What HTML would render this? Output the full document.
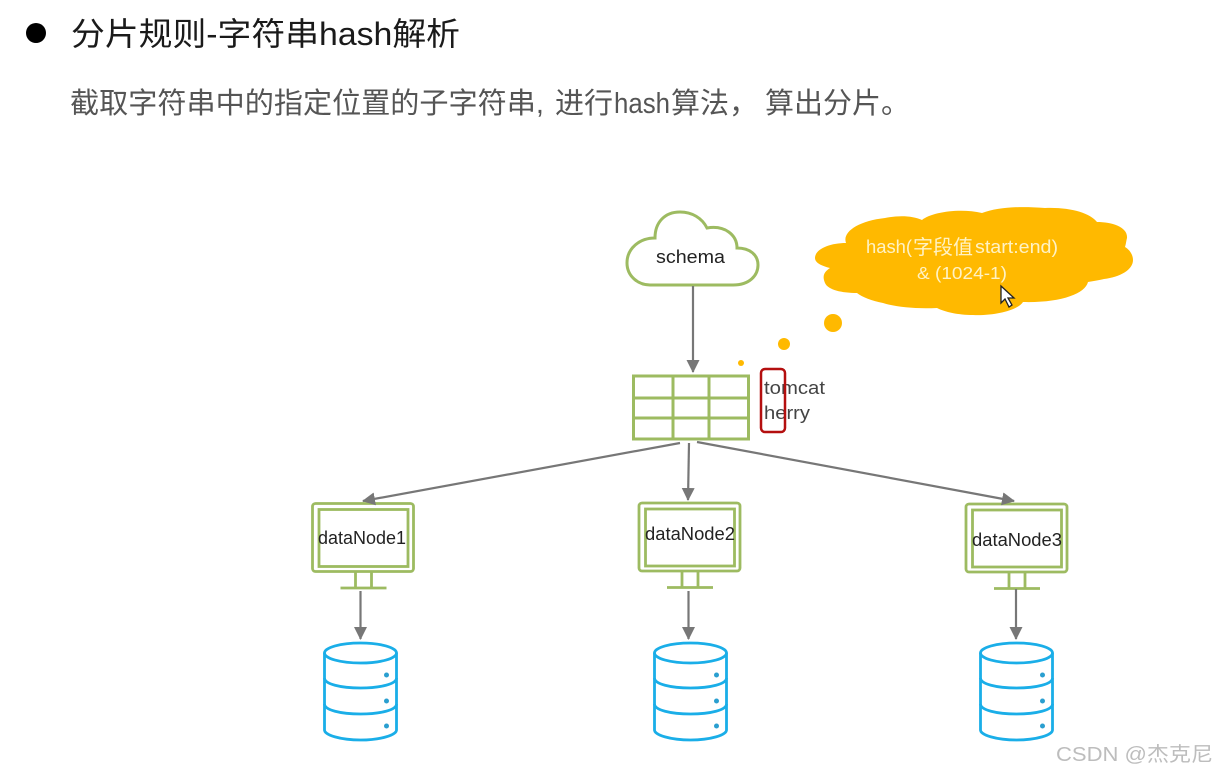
<!DOCTYPE html>
<html><head><meta charset="utf-8"><style>
html,body{margin:0;padding:0;background:#fff}
svg{display:block}
text{font-family:"Liberation Sans","Noto Sans CJK SC",sans-serif}
</style></head><body>
<svg width="1218" height="772" viewBox="0 0 1218 772" xmlns="http://www.w3.org/2000/svg">
<defs>
<marker id="a" markerUnits="userSpaceOnUse" markerWidth="14" markerHeight="14" refX="12" refY="6.500" orient="auto"><path d="M0 0L13 6.500L0 13Z" fill="#777"/></marker>
<g id="mon" fill="none" stroke="#9dbb61" stroke-width="2.800">
<rect x="0" y="0" width="101" height="68" rx="3"/>
<rect x="6.500" y="6" width="89" height="57"/>
<path d="M43 69V84M59 69V84M28 84.500H74"/>
</g>
<g id="db" fill="none" stroke="#1aaee8" stroke-width="2.800">
<ellipse cx="36" cy="10" rx="36" ry="10"/>
<path d="M0 10V87C0 92 16 97 36 97S72 92 72 87V10"/>
<path d="M0 35C0 41 16 45 36 45S72 41 72 35M0 61C0 67 16 71 36 71S72 67 72 61"/>
<g fill="#2a9fd0" stroke="none"><circle cx="62" cy="32" r="2.500"/><circle cx="62" cy="58" r="2.500"/><circle cx="62" cy="83" r="2.500"/></g>
</g>
</defs>
<circle cx="36" cy="33" r="10" fill="#000"/>
<text x="71" y="45" font-size="32" fill="#1a1a1a" textLength="389" lengthAdjust="spacingAndGlyphs">分片规则-字符串hash解析</text>
<g font-size="29" fill="#555">
<text x="70" y="113" textLength="474" lengthAdjust="spacingAndGlyphs">截取字符串中的指定位置的子字符串,</text>
<text x="555" y="113">进行</text>
<text x="614" y="113" textLength="56" lengthAdjust="spacingAndGlyphs">hash</text>
<text x="671" y="113">算法，</text>
<text x="765" y="113">算出分片。</text>
</g>

<path d="M650 285H733C750 285 758 275 758 265C758 255 750 248 737 248C737 235 725 225 707 228C702 218 692 212 680 212C665 212 655 222 655 238C640 238 627 248 627 263C627 276 638 285 650 285Z" fill="#fff" stroke="#9dbb61" stroke-width="3"/>
<text x="656" y="263" font-size="18" fill="#222" textLength="69" lengthAdjust="spacingAndGlyphs">schema</text>

<path d="M815 258C815 249 830 243 846 243C842 232 858 221 885 218C900 215 913 216 922 220C932 212 960 208 982 213C998 207 1020 206 1045 208C1070 207 1090 213 1097 222C1112 222 1128 227 1127 238C1126 242 1126 244 1125 247C1130 250 1133 255 1133 260C1133 270 1120 277 1104 279C1100 280 1094 281 1088 282C1085 294 1060 303 1023 302C1018 310 995 316 973 315C958 315 945 312 937 308C915 309 895 307 883 303C872 301 862 297 857 293C842 293 828 290 825 283C822 276 824 272 830 268C822 266 815 263 815 258Z" fill="#ffb900"/>
<g fill="#ffb900"><circle cx="833" cy="323" r="9"/><circle cx="784" cy="344" r="6"/><circle cx="741" cy="363" r="3"/></g>
<g fill="#fff2c4">
<text x="866" y="253" font-size="18.500" textLength="46" lengthAdjust="spacingAndGlyphs">hash(</text>
<text x="913" y="254" font-size="20">字段值</text>
<text x="975" y="253" font-size="18.500" textLength="83" lengthAdjust="spacingAndGlyphs">start:end)</text>
<text x="917" y="279" font-size="17.500" textLength="90" lengthAdjust="spacingAndGlyphs">&amp; (1024-1)</text>
</g>
<path d="M1001 286V303L1005 299L1009 307L1012 305L1008 298H1014Z" fill="#fff" stroke="#222" stroke-width="1.300"/>

<g fill="none" stroke="#9dbb61" stroke-width="3">
<rect x="633.500" y="376" width="115" height="63"/>
<path d="M673 376V439M709 376V439M633 398H748M633 418H748"/>
</g>
<text x="764" y="394" font-size="18" fill="#444" textLength="61" lengthAdjust="spacingAndGlyphs">tomcat</text>
<text x="764" y="419" font-size="18" fill="#444" textLength="46" lengthAdjust="spacingAndGlyphs">herry</text>
<rect x="761" y="369" width="24" height="63" rx="4" fill="none" stroke="#b40f0f" stroke-width="2.500"/>

<use href="#mon" x="312.500" y="503.500"/>
<use href="#mon" x="639" y="503"/>
<use href="#mon" x="966" y="504"/>
<text x="318" y="544" font-size="18" fill="#222" textLength="88" lengthAdjust="spacingAndGlyphs">dataNode1</text>
<text x="645" y="540" font-size="18" fill="#222" textLength="90" lengthAdjust="spacingAndGlyphs">dataNode2</text>
<text x="972" y="546" font-size="18" fill="#222" textLength="90" lengthAdjust="spacingAndGlyphs">dataNode3</text>

<use href="#db" x="324.500" y="643"/>
<use href="#db" x="654.500" y="643"/>
<use href="#db" x="980.500" y="643"/>

<g stroke="#777" stroke-width="2.200" fill="none">
<path d="M693 286V372" marker-end="url(#a)"/>
<path d="M680 443L363 501" marker-end="url(#a)"/>
<path d="M689 443L688 500" marker-end="url(#a)"/>
<path d="M697 442L1014 501" marker-end="url(#a)"/>
<path d="M360.500 591V639" marker-end="url(#a)"/>
<path d="M688.500 591V639" marker-end="url(#a)"/>
<path d="M1016 589V639" marker-end="url(#a)"/>
</g>
<text x="1056" y="761" font-size="20" fill="#bdbdbd" textLength="157" lengthAdjust="spacingAndGlyphs">CSDN @杰克尼</text>
</svg>
</body></html>
